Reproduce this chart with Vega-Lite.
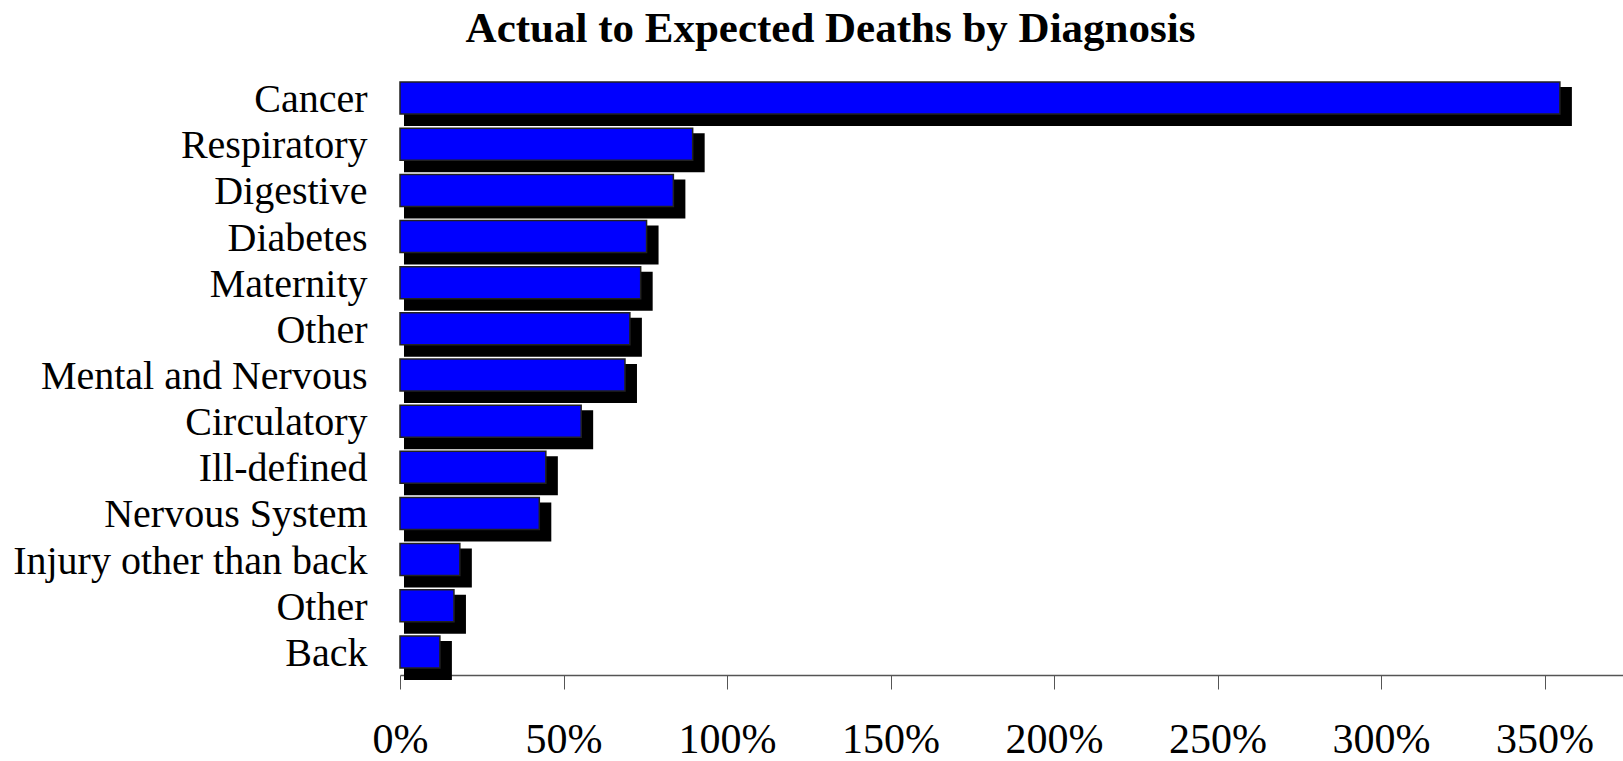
{
  "$schema": "https://vega.github.io/schema/vega-lite/v6.json",
  "autosize": {"type": "none"},
  "padding": {"left": 400, "top": 75, "right": 0, "bottom": 86},
  "width": 1223,
  "height": 600,
  "background": "white",
  "title": {
    "text": "Actual to Expected Deaths by Diagnosis",
    "font": "Liberation Serif",
    "fontSize": 43,
    "fontWeight": "bold",
    "color": "black",
    "anchor": "middle",
    "frame": "group",
    "dx": -181,
    "dy": -20
  },
  "data": {
    "values": [
      {"diagnosis": "Cancer", "ratio": 3.547},
      {"diagnosis": "Respiratory", "ratio": 0.895},
      {"diagnosis": "Digestive", "ratio": 0.836},
      {"diagnosis": "Diabetes", "ratio": 0.754},
      {"diagnosis": "Maternity", "ratio": 0.736},
      {"diagnosis": "Other", "ratio": 0.703},
      {"diagnosis": "Mental and Nervous", "ratio": 0.688},
      {"diagnosis": "Circulatory", "ratio": 0.554},
      {"diagnosis": "Ill-defined", "ratio": 0.446},
      {"diagnosis": "Nervous System", "ratio": 0.426},
      {"diagnosis": "Injury other than back", "ratio": 0.183},
      {"diagnosis": "Other\u200b", "ratio": 0.165},
      {"diagnosis": "Back", "ratio": 0.122}
    ]
  },
  "encoding": {
    "y": {
      "field": "diagnosis",
      "type": "nominal",
      "sort": null,
      "scale": {"paddingInner": 0, "paddingOuter": 0},
      "axis": {
        "title": null,
        "domain": false,
        "ticks": false,
        "labelFont": "Liberation Serif",
        "labelFontSize": 40,
        "labelColor": "black",
        "labelPadding": 33,
        "labelOffset": 2,
        "labelLimit": 0
      }
    },
    "x": {
      "field": "ratio",
      "type": "quantitative",
      "scale": {"domain": [0, 3.74], "nice": false, "zero": true},
      "axis": {
        "title": null,
        "values": [0, 0.5, 1, 1.5, 2, 2.5, 3, 3.5],
        "format": ".0%",
        "grid": false,
        "labelFont": "Liberation Serif",
        "labelFontSize": 42,
        "labelColor": "black",
        "labelPadding": 30,
        "tickSize": 14,
        "tickColor": "#555555",
        "domainColor": "#555555",
        "domainWidth": 1.5,
        "labelFlush": false,
        "labelOverlap": false
      }
    },
    "x2": {"datum": 0}
  },
  "layer": [
    {
      "mark": {"type": "bar", "color": "black", "size": 39, "yOffset": 8.5, "xOffset": 12, "x2Offset": 4}
    },
    {
      "mark": {"type": "bar", "color": "#0000FF", "size": 32, "stroke": "#222222", "strokeWidth": 1.5}
    }
  ],
  "config": {"view": {"stroke": null}}
}
